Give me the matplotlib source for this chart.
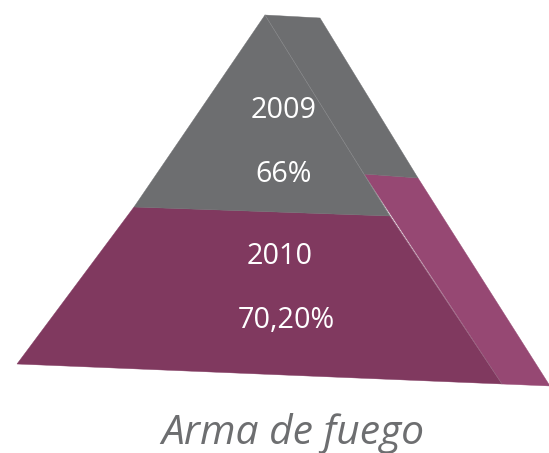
import matplotlib
matplotlib.use("Agg")
import matplotlib.pyplot as plt
from matplotlib.patches import Polygon

years = ["2009", "2010"]
percentages = ["66%", "70,20%"]
title = "Arma de fuego"

apex = (265, 15)
back_top = (320, 18)
front_left = (17, 364)
front_right = (502, 384)
back_right = (550, 386)
split_left = (134, 207)
split_right = (390, 216)
side_split_front = (364, 174)
side_split_back = (418, 178)

GRAY = "#6d6e70"
MAROON = "#80395f"
SIDE = "#964873"

fig = plt.figure(figsize=(5.49, 4.53), dpi=100)
ax = fig.add_axes([0, 0, 1, 1])
ax.set_xlim(0, 549)
ax.set_ylim(453, 0)
ax.axis("off")

def face(points, color, z=1):
    ax.add_patch(Polygon(points, closed=True, facecolor=color, edgecolor=color, linewidth=0.3, zorder=z, clip_on=False))

face([side_split_front, side_split_back, back_right, front_right], SIDE, 1)
face([apex, back_top, side_split_back, side_split_front], GRAY, 1)
face([split_left, split_right, front_right, front_left], MAROON, 2)
face([apex, split_right, split_left], GRAY, 2)
ax.plot([apex[0], split_right[0]], [apex[1], split_right[1]], color="#8a8b8d", lw=0.4, zorder=3)
ax.plot([split_right[0], front_right[0]], [split_right[1], front_right[1]], color="#9c6a86", lw=0.4, zorder=3)

txt = dict(color="white", family="Open Sans", ha="center", va="center", fontsize=20.7, zorder=4)
ax.text(284, 110, years[0], **txt)
ax.text(284, 174, percentages[0], **txt)
ax.text(280, 256, years[1], **txt)
ax.text(286.5, 320, percentages[1], **txt)

ax.text(293, 434, title, color=GRAY, family="Open Sans", style="italic", ha="center", va="center", fontsize=29.3)

fig.savefig("out.png", dpi=100)
